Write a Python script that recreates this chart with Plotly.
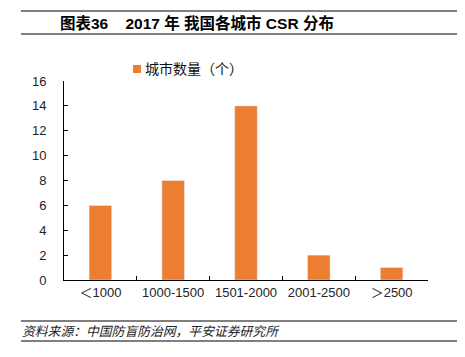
import plotly.graph_objects as go

categories = ["＜1000", "1000-1500", "1501-2000", "2001-2500", "＞2500"]
counts = [6, 8, 14, 2, 1]
series_name = "城市数量（个）"
y_ticks = [0, 2, 4, 6, 8, 10, 12, 14, 16]

OFF = 8  # page body margin
W, H = 465 - OFF, 357 - OFF
L, R, T, B = 64 - OFF, 428 - OFF, 81 - OFF, 280 - OFF
pw, ph = R - L, B - T

def px(x):
    return (x - OFF - L) / pw

def py(y):
    return (B - (y - OFF)) / ph

font_fam = "Liberation Sans, Noto Sans CJK SC, sans-serif"
bar_color = "#ED7D31"

fig = go.Figure()
fig.add_trace(go.Bar(x=categories, y=counts, name=series_name,
                     marker_color=bar_color, width=0.31, showlegend=False))

fig.update_layout(
    width=W, height=H,
    margin=dict(l=L, r=W - R, t=T, b=H - B, pad=0, autoexpand=False),
    paper_bgcolor="white", plot_bgcolor="white",
    font=dict(family=font_fam, size=13, color="#222"),
    showlegend=False,
    xaxis=dict(showline=True, linecolor="#000", linewidth=1, ticks="inside",
               tickson="boundaries", ticklen=4, tickcolor="#000",
               tickfont=dict(size=13, color="#222"), showgrid=False,
               range=[-0.5, 4.5], automargin=False),
    yaxis=dict(range=[0, 16], tickvals=y_ticks, showline=True, linecolor="#000",
               linewidth=1, ticks="inside", ticklen=4, tickcolor="#000",
               showgrid=False, zeroline=False, tickfont=dict(size=13, color="#222"),
               ticklabelstandoff=14, automargin=False),
)

shapes = []
for yy in (11, 34, 321, 341):
    shapes.append(dict(type="line", xref="paper", yref="paper",
                       x0=px(21), x1=px(466), y0=py(yy), y1=py(yy),
                       line=dict(color="#000", width=1.2)))
# legend marker
shapes.append(dict(type="rect", xref="paper", yref="paper",
                   x0=px(133), x1=px(141), y0=py(73), y1=py(65),
                   fillcolor=bar_color, line=dict(width=0)))
fig.update_layout(shapes=shapes)

fig.add_annotation(xref="paper", yref="paper", x=px(143), y=py(69),
                   xanchor="left", yanchor="middle", showarrow=False,
                   text=series_name,
                   font=dict(size=14, color="#111", family=font_fam))
fig.add_annotation(xref="paper", yref="paper", x=px(58), y=py(23),
                   xanchor="left", yanchor="middle", showarrow=False,
                   text="<b>图表36    2017 年 我国各城市 CSR 分布</b>",
                   font=dict(size=15.5, color="#000", family=font_fam))
fig.add_annotation(xref="paper", yref="paper", x=px(20), y=py(331),
                   xanchor="left", yanchor="middle", showarrow=False,
                   text="<i>资料来源：中国防盲防治网，平安证券研究所</i>",
                   font=dict(size=12.8, color="#222", family=font_fam))

fig.write_html("out.html")
